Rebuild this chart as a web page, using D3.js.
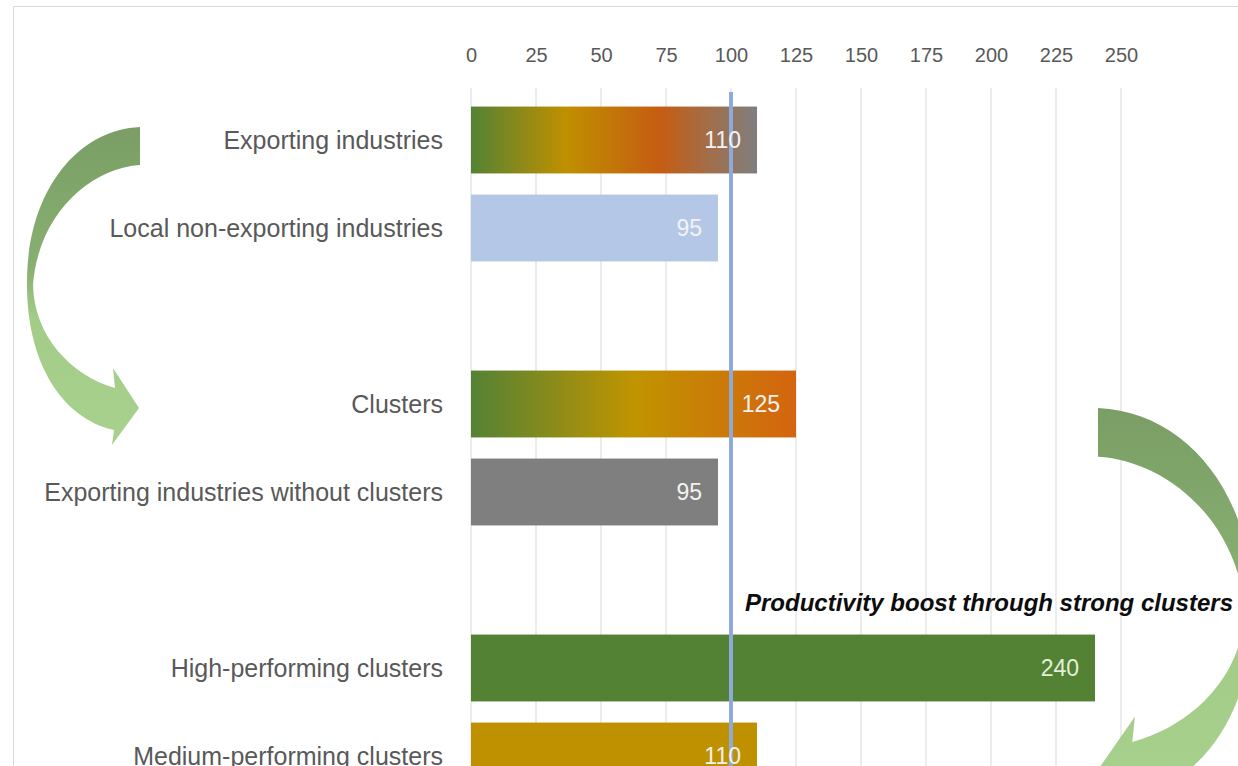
<!DOCTYPE html>
<html>
<head>
<meta charset="utf-8">
<script src="https://cdn.jsdelivr.net/npm/d3@7"></script>
<style>
  body { margin: 0; background: #fff; }
  svg { display: block; font-family: "Liberation Sans", Arial, sans-serif; }
</style>
</head>
<body>
<svg width="1238" height="766"></svg>
<script>
// rows of the chart, gaps between the three groups are empty slots
var slots = ["Exporting industries", "Local non-exporting industries", "gap1",
  "Clusters", "Exporting industries without clusters", "gap2",
  "High-performing clusters", "Medium-performing clusters"];
var categories = ["Exporting industries", "Local non-exporting industries",
  "Clusters", "Exporting industries without clusters",
  "High-performing clusters", "Medium-performing clusters"];
var values = [110, 95, 125, 95, 240, 110];
var tickValues = [0, 25, 50, 75, 100, 125, 150, 175, 200, 225, 250];
var referenceValue = 100;
var annotation = "Productivity boost through strong clusters";

var fills = ["url(#gradExport)", "#b4c7e7", "url(#gradClusters)", "#7f7f7f", "#548235", "#bf9000"];

var svg = d3.select("svg"),
  plotTop = 88,
  plotBottom = 800;

var x = d3.scaleLinear().domain([0, 250]).range([471, 1121]);
var y = d3.scaleBand().domain(slots).range([96, 800]).paddingInner(0.24).paddingOuter(0.12);

var defs = svg.append("defs");

function hGradient(id, stops) {
  var gr = defs.append("linearGradient").attr("id", id)
    .attr("x1", "0").attr("y1", "0").attr("x2", "1").attr("y2", "0");
  stops.forEach(function(s) {
    gr.append("stop").attr("offset", s[0]).attr("stop-color", s[1]);
  });
}
hGradient("gradExport", [[0, "#548235"], [0.33, "#bf9000"], [0.66, "#c65c12"], [1, "#7f7f7f"]]);
hGradient("gradClusters", [[0, "#548235"], [0.5, "#c09400"], [1, "#d4640f"]]);

var arrowGrad = defs.append("linearGradient").attr("id", "gradArrow")
  .attr("x1", "0").attr("y1", "0").attr("x2", "0").attr("y2", "1");
arrowGrad.append("stop").attr("offset", 0).attr("stop-color", "#7a9e65");
arrowGrad.append("stop").attr("offset", 0.45).attr("stop-color", "#89b073");
arrowGrad.append("stop").attr("offset", 0.6).attr("stop-color", "#a3cc88");
arrowGrad.append("stop").attr("offset", 1).attr("stop-color", "#a9d18e");

// chart frame
svg.append("rect")
  .attr("x", 13.5).attr("y", 6.5)
  .attr("width", 1400).attr("height", 1000)
  .attr("fill", "none")
  .attr("stroke", "#d9d9d9");

// gridlines
svg.append("g")
  .selectAll("line")
  .data(tickValues)
  .join("line")
  .attr("x1", function(d) { return x(d); })
  .attr("x2", function(d) { return x(d); })
  .attr("y1", plotTop)
  .attr("y2", plotBottom)
  .attr("stroke", "#d9d9d9")
  .attr("stroke-width", 1);

// top axis labels
var axis = svg.append("g")
  .attr("transform", "translate(0,62)")
  .call(d3.axisTop(x).tickValues(tickValues).tickSize(0).tickPadding(0));
axis.select(".domain").remove();
axis.selectAll("text")
  .attr("fill", "#595959")
  .style("font-size", "20px")
  .style("font-family", "'Liberation Sans', Arial, sans-serif");

// curved arrows (same shape, mirrored on the right)
var arrowPath = "M0,0 C-65,3 -114,68 -113,158 C-113,233 -80,291 -26,303 L-28,318 L-1,281 " +
  "L-27,241 L-25,261 C-70,248 -106,208 -107,158 C-102,88 -50,41 0,38 Z";

svg.append("path")
  .attr("d", arrowPath)
  .attr("transform", "translate(140,127)")
  .attr("fill", "url(#gradArrow)");

svg.append("path")
  .attr("d", arrowPath)
  .attr("transform", "translate(1098,408) scale(-1.37,1.28)")
  .attr("fill", "url(#gradArrow)");

// bars
var rows = categories.map(function(c, i) { return { name: c, value: values[i], fill: fills[i] }; });

svg.append("g")
  .selectAll("rect")
  .data(rows)
  .join("rect")
  .attr("x", x(0))
  .attr("y", function(d) { return y(d.name); })
  .attr("width", function(d) { return x(d.value) - x(0); })
  .attr("height", y.bandwidth())
  .attr("fill", function(d) { return d.fill; });

// category labels
svg.append("g")
  .selectAll("text")
  .data(rows)
  .join("text")
  .attr("x", 443)
  .attr("y", function(d) { return y(d.name) + y.bandwidth() / 2; })
  .attr("dy", "0.35em")
  .attr("text-anchor", "end")
  .attr("fill", "#595959")
  .style("font-size", "25px")
  .text(function(d) { return d.name; });

// reference line at 100
svg.append("line")
  .attr("x1", x(referenceValue)).attr("x2", x(referenceValue))
  .attr("y1", 92).attr("y2", plotBottom)
  .attr("stroke", "#8eaadb")
  .attr("stroke-width", 4);

// value labels
svg.append("g")
  .selectAll("text")
  .data(rows)
  .join("text")
  .attr("x", function(d) { return x(d.value) - 16; })
  .attr("y", function(d) { return y(d.name) + y.bandwidth() / 2; })
  .attr("dy", "0.36em")
  .attr("text-anchor", "end")
  .attr("fill", function(d) { return d.value === 240 ? "#e2f0d9" : "#f2f2f2"; })
  .style("font-size", "23px")
  .text(function(d) { return d.value; });

svg.append("text")
  .attr("x", 1233)
  .attr("y", 611)
  .attr("text-anchor", "end")
  .attr("fill", "#0d0d0d")
  .style("font-size", "24px")
  .style("font-weight", "bold")
  .style("font-style", "italic")
  .text(annotation);
</script>
</body>
</html>
